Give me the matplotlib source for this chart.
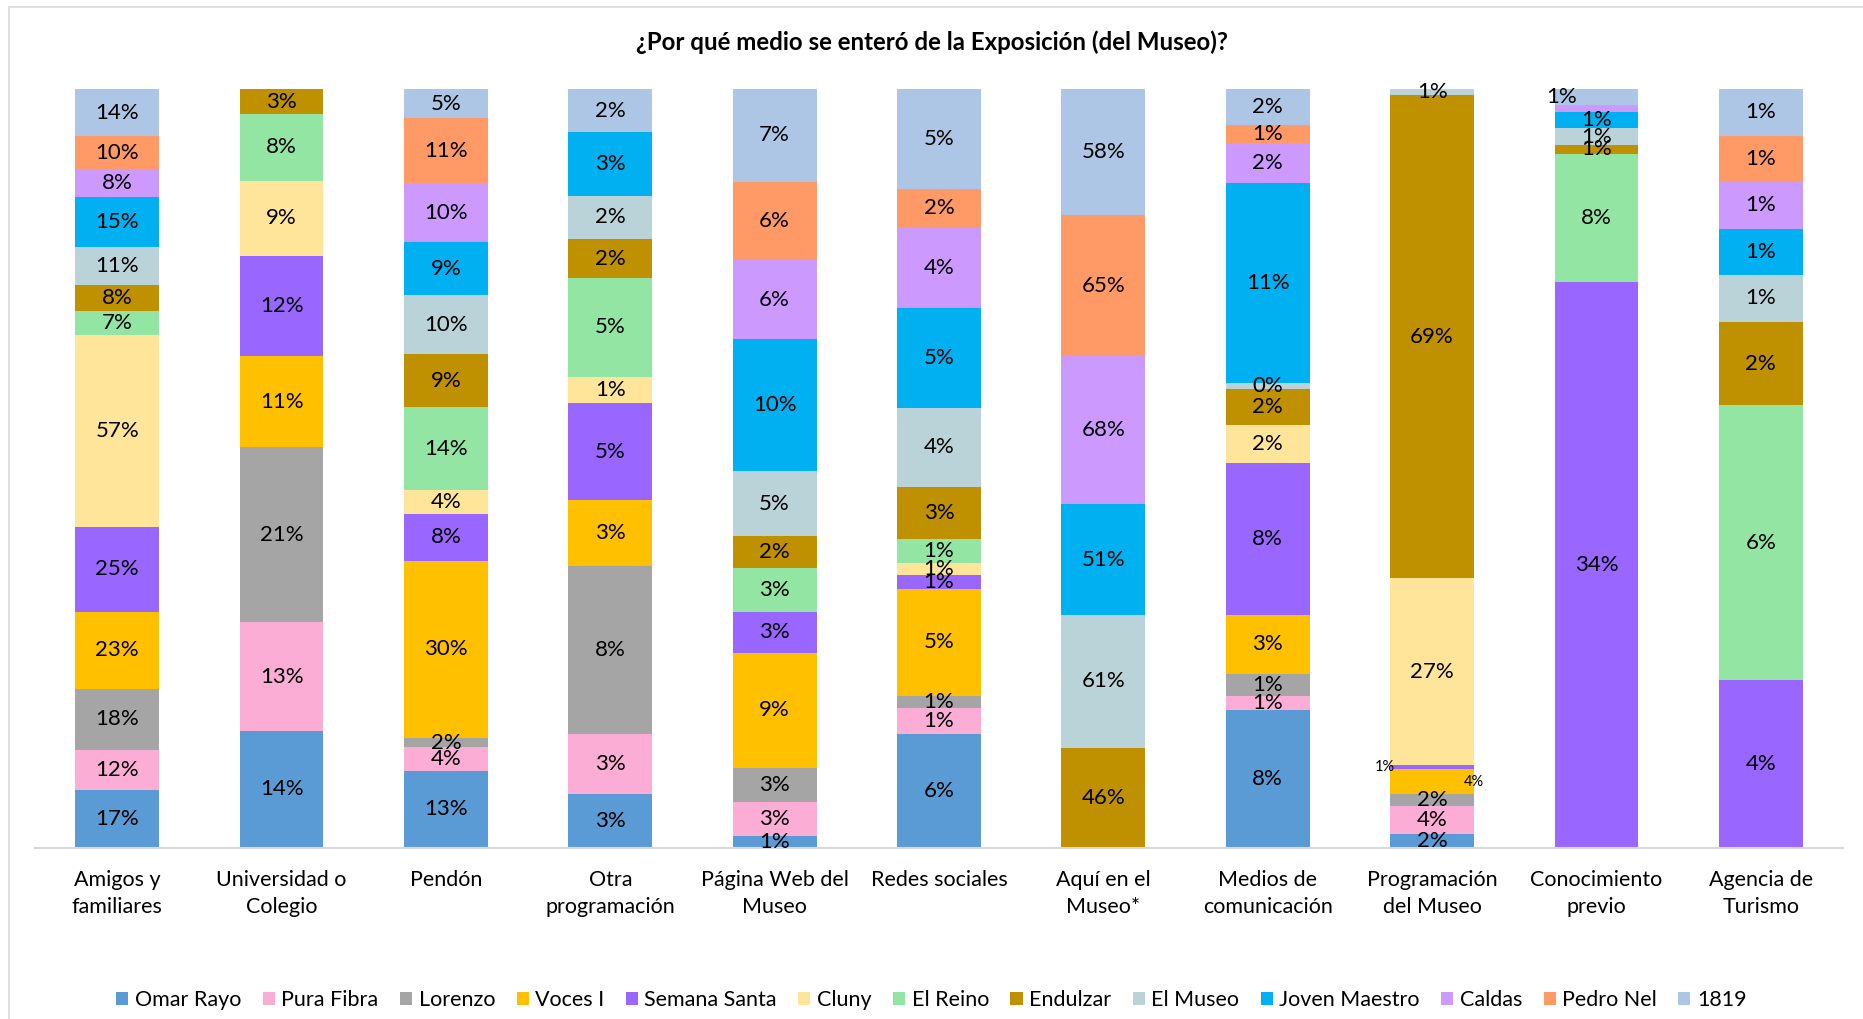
import matplotlib
matplotlib.use("Agg")
import matplotlib.pyplot as plt
from matplotlib.patches import Patch, Rectangle
import numpy as np

plt.rcParams['font.family'] = ['Lato', 'DejaVu Sans']

title = "¿Por qué medio se enteró de la Exposición (del Museo)?"

categories = [
    "Amigos y\nfamiliares", "Universidad o\nColegio", "Pendón",
    "Otra\nprogramación", "Página Web del\nMuseo", "Redes sociales",
    "Aquí en el\nMuseo*", "Medios de\ncomunicación", "Programación\ndel Museo",
    "Conocimiento\nprevio", "Agencia de\nTurismo",
]

# Percent of each exhibition's visitors reached by each medium
omar_rayo     = [17, 14, 13, 2.6, 0.9, 5.7, 0, 7.6, 2.0, 0, 0]
pura_fibra    = [12, 13, 4, 2.9, 2.6, 1.3, 0, 0.8, 4.0, 0, 0]
lorenzo       = [18, 21, 1.6, 8.2, 2.6, 0.6, 0, 1.2, 1.6, 0, 0]
voces_i       = [23, 11, 30, 3.2, 8.8, 5.4, 0, 3.3, 3.6, 0, 0]
semana_santa  = [25, 12, 8, 4.7, 3.1, 0.7, 0, 8.4, 0.6, 34.4, 3.6]
cluny         = [57, 9, 4, 1.3, 0, 0.6, 0, 2.1, 26.7, 0, 0]
el_reino      = [7, 8, 14, 4.8, 3.4, 1.2, 0, 0, 0, 7.8, 5.9]
endulzar      = [8, 3, 9, 1.9, 2.4, 2.6, 46, 2.0, 69, 0.55, 1.8]
el_museo      = [11, 0, 10, 2.1, 5.0, 4.0, 61, 0.3, 0.9, 1.0, 1.0]
joven_maestro = [15, 0, 9, 3.1, 10.1, 5.0, 51, 11.1, 0, 1.0, 1.0]
caldas        = [8, 0, 10, 0, 6.0, 4.0, 68, 2.2, 0, 0.4, 1.0]
pedro_nel     = [10, 0, 11, 0, 6.0, 2.0, 65, 1.0, 0, 0, 1.0]
s1819         = [14, 0, 5, 2.1, 7.1, 5.0, 58, 2.0, 0, 1.0, 1.0]

series_names = ["Omar Rayo", "Pura Fibra", "Lorenzo", "Voces I", "Semana Santa",
                "Cluny", "El Reino", "Endulzar", "El Museo", "Joven Maestro",
                "Caldas", "Pedro Nel", "1819"]
series_values = [omar_rayo, pura_fibra, lorenzo, voces_i, semana_santa, cluny,
                 el_reino, endulzar, el_museo, joven_maestro, caldas, pedro_nel, s1819]
colors = ["#5B9BD5", "#FBADD6", "#A5A5A5", "#FFC000", "#9966FF", "#FFE599",
          "#92E5A2", "#BF9000", "#B9D3D8", "#00B0F0", "#CC99FF", "#FF9966", "#ADC6E5"]

# Labels left out, and labels nudged sideways / drawn smaller
hidden_labels = {(9, 10)}
label_style = {(8, 4): (-0.29, 10.5), (8, 3): (0.255, 10.5), (9, 12): (-0.21, 16)}

fig = plt.figure(figsize=(18.63, 10.19), dpi=100)
ax = fig.add_axes([35 / 1863, 1 - 847.5 / 1019, 1808 / 1863, (847.5 - 89) / 1019])

data = np.array(series_values, dtype=float)
totals = data.sum(axis=0)
shares = data / totals
x = np.arange(len(categories))
bottom = np.zeros(len(categories))
for i, (name, col) in enumerate(zip(series_names, colors)):
    ax.bar(x, shares[i], bottom=bottom, width=0.51, color=col, label=name,
           edgecolor='none')
    for j in range(len(categories)):
        v = data[i, j]
        if v <= 0 or (j, i) in hidden_labels:
            continue
        dx, fs = label_style.get((j, i), (0, 16))
        ax.text(x[j] + dx, bottom[j] + shares[i, j] / 2, f"{v:.0f}%",
                ha='center', va='center', fontsize=fs, color='black')
    bottom += shares[i]

ax.set_xlim(-0.5, len(categories) - 0.5)
ax.set_ylim(0, 1)
ax.set_yticks([])
ax.set_xticks(x)
ax.set_xticklabels(categories, fontsize=15.5, color='black', linespacing=1.42)
ax.tick_params(axis='x', length=0, pad=16.5)
for s in ['top', 'right', 'left']:
    ax.spines[s].set_visible(False)
ax.spines['bottom'].set_color('#D9D9D9')
ax.spines['bottom'].set_linewidth(1.5)

fig.text(0.5, 1 - 42 / 1019, title, ha='center', va='center',
         fontsize=17.3, fontweight='bold', color='black')

handles = [Patch(facecolor=c, edgecolor='none') for c in colors]
fig.legend(handles, series_names, loc='center', bbox_to_anchor=(0.5, 1 - 1000 / 1019),
           ncol=len(series_names), frameon=False, fontsize=15.5,
           handlelength=0.56, handleheight=0.56, handletextpad=0.3,
           columnspacing=1.0, borderaxespad=0)

fig.patches.append(Rectangle((9 / 1863, -0.5), 2, 1.5 - 6.5 / 1019,
                             transform=fig.transFigure, fill=False,
                             edgecolor='#D9D9D9', linewidth=1.2))

fig.savefig("out.png", dpi=100, facecolor='white')
